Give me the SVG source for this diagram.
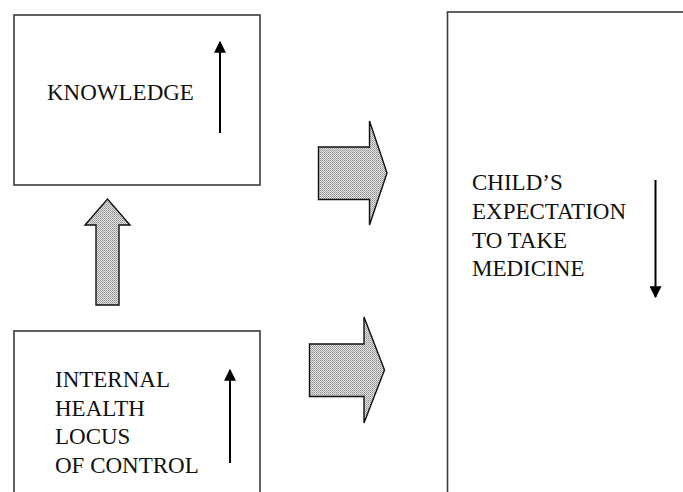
<svg xmlns="http://www.w3.org/2000/svg" width="683" height="492" viewBox="0 0 683 492">
  <style>
    .box { fill: #fff; stroke: #3a3a3a; stroke-width: 1.6; }
    .lbl { font-family: 'Times New Roman', 'Liberation Serif', Tinos, 'DejaVu Serif', serif; font-size: 23px; fill: #111; }
    .trend { stroke: #000; stroke-width: 2; fill: none; }
    .block { fill: url(#stipple); stroke: #111; stroke-width: 1.4; stroke-linejoin: miter; }
  </style>
  <defs>
    <pattern id="stipple" width="2" height="2" patternUnits="userSpaceOnUse">
      <rect width="2" height="2" fill="#e4e4e4"/>
      <rect width="1" height="1" fill="#8c8c8c"/>
      <rect x="1" y="1" width="1" height="1" fill="#a8a8a8"/>
    </pattern>
    <marker id="head" viewBox="0 0 10 10" refX="9" refY="5" markerWidth="6" markerHeight="6" orient="auto" markerUnits="strokeWidth">
      <path d="M0,0 L10,5 L0,10 Z" fill="#000"/>
    </marker>
  </defs>

  <g id="knowledge">
    <rect class="box" x="14" y="15" width="246" height="170"/>
    <text class="lbl" x="47" y="100">KNOWLEDGE</text>
    <line class="trend" x1="220" y1="133" x2="220" y2="42" marker-end="url(#head)"/>
  </g>

  <g id="locus">
    <rect class="box" x="14" y="331" width="246" height="180"/>
    <text class="lbl" x="55" y="387">INTERNAL</text>
    <text class="lbl" x="55" y="415.5">HEALTH</text>
    <text class="lbl" x="55" y="444">LOCUS</text>
    <text class="lbl" x="55" y="472.5">OF CONTROL</text>
    <line class="trend" x1="230" y1="463" x2="230" y2="370" marker-end="url(#head)"/>
  </g>

  <g id="expectation">
    <rect class="box" x="447.5" y="12" width="260" height="500"/>
    <text class="lbl" x="472" y="190">CHILD’S</text>
    <text class="lbl" x="472" y="219">EXPECTATION</text>
    <text class="lbl" x="472" y="247.5">TO TAKE</text>
    <text class="lbl" x="472" y="276">MEDICINE</text>
    <line class="trend" x1="655.5" y1="180" x2="655.5" y2="297" marker-end="url(#head)"/>
  </g>

  <g id="connectors">
    <!-- locus of control -> knowledge -->
    <path class="block" d="M96,305 L96,225 L85,225 L107.5,199 L130,225 L119,225 L119,305 Z"/>
    <!-- knowledge -> expectation -->
    <path class="block" d="M318.5,147 L369.5,147 L369.5,121 L387,173 L369.5,225 L369.5,199.5 L318.5,199.5 Z"/>
    <!-- locus of control -> expectation -->
    <path class="block" d="M309.5,344 L364,344 L364,317 L384.5,370 L364,423 L364,396.5 L309.5,396.5 Z"/>
  </g>
</svg>
